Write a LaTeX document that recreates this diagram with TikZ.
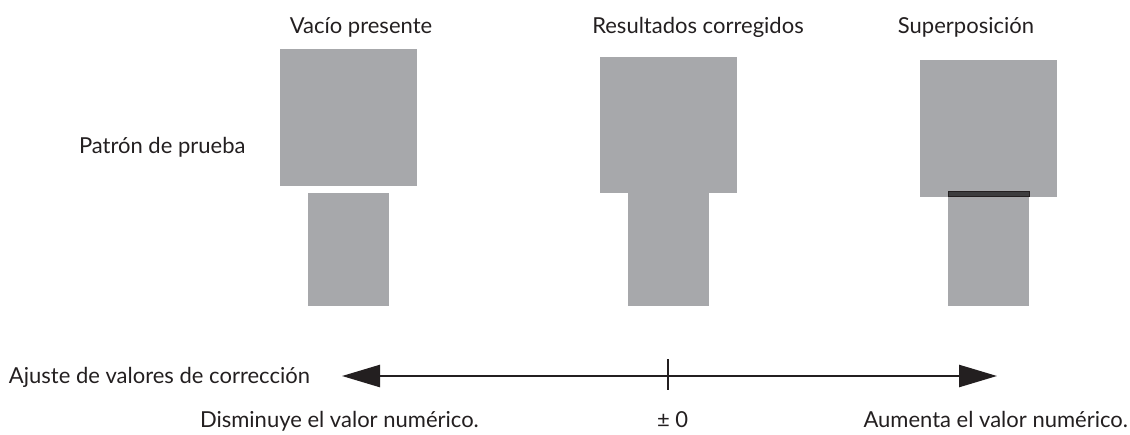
\documentclass[tikz,border=0pt]{standalone}
\usepackage{fontspec}
\setmainfont{Lato}
\usetikzlibrary{arrows.meta}
\definecolor{padgray}{HTML}{A7A8AB}
\definecolor{inkdark}{HTML}{231F20}
\definecolor{stripdark}{HTML}{3C3C3E}
\tikzset{
  pad/.style={fill=padgray, draw=none, inner sep=0pt, outer sep=0pt, rectangle},
  lbl/.style={inner sep=0pt, outer sep=0pt, font=\fontsize{22}{26}\selectfont, text=inkdark},
  axisline/.style={draw=inkdark, line width=2.5pt},
}
\begin{document}
\begin{tikzpicture}[x=1pt, y=-1pt]
\useasboundingbox (0,0) rectangle (1130,434);
% titles
\node[lbl, anchor=base] (t1) at (361,33) {Vacío presente};
\node[lbl, anchor=base] (t2) at (698,33) {Resultados corregidos};
\node[lbl, anchor=base] (t3) at (966,33) {Superposición};
\node[lbl, anchor=base west] (pat) at (79,153) {Patrón de prueba};
% left: gap
\node[pad, minimum width=137pt, minimum height=137pt, anchor=north west] (Lbig) at (280,49) {};
\node[pad, minimum width=81pt, minimum height=113pt, anchor=north west] (Lsmall) at (308,193) {};
% middle: corrected
\node[pad, minimum width=137pt, minimum height=136pt, anchor=north west] (Mbig) at (600,57) {};
\node[pad, minimum width=81pt, minimum height=113pt, anchor=north west] (Msmall) at (628,193) {};
% right: overlap
\node[pad, minimum width=137pt, minimum height=137pt, anchor=north west] (Rbig) at (920,60) {};
\node[pad, minimum width=81pt, minimum height=115pt, anchor=north west] (Rsmall) at (948,191) {};
\node[rectangle, fill=stripdark, draw=inkdark, line width=0.6pt, inner sep=0pt, outer sep=0pt, minimum width=81pt, minimum height=5.5pt, anchor=north west] (Rstrip) at (948,191) {};
% axis
\coordinate (aL) at (342,376);
\coordinate (aR) at (997,376);
\coordinate (zero) at (668,376);
\coordinate (tickT) at (668,359);
\coordinate (tickB) at (668,390);
\draw[axisline, {Triangle[length=38pt,width=22pt]}-{Triangle[length=38pt,width=22pt]}] (aL) -- (aR);
\draw[axisline] (tickT) -- (tickB);
\node[lbl, anchor=base west] (adj) at (9,383) {Ajuste de valores de corrección};
\node[lbl, anchor=base west] (dec) at (200,427) {Disminuye el valor numérico.};
\node[lbl, anchor=base west] (pm) at (657,427) {± 0};
\node[lbl, anchor=base east] (inc) at (1128,427) {Aumenta el valor numérico.};
\end{tikzpicture}
\end{document}
